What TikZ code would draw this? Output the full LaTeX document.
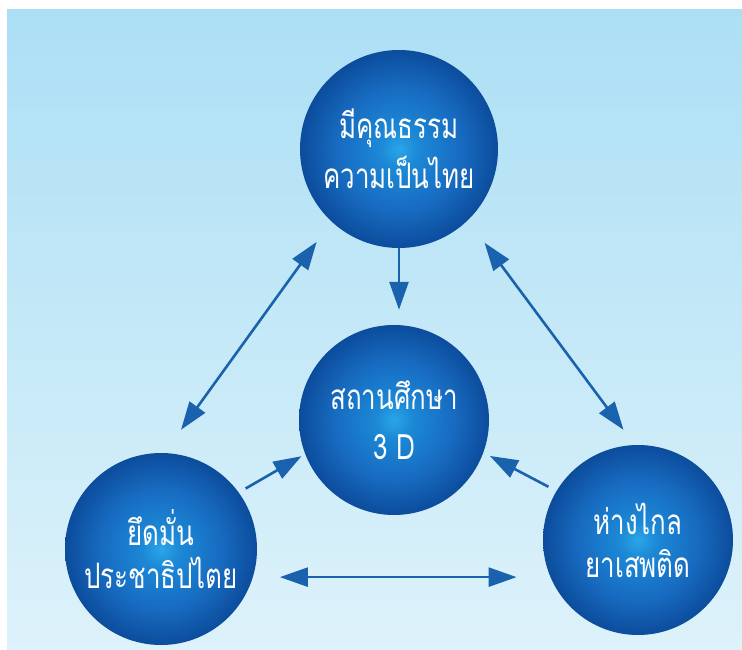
\documentclass[tikz,border=0pt]{standalone}
\usepackage{fontspec}
\newfontfamily\thaifont[Script=Thai,FakeStretch=0.74]{Loma}
\usetikzlibrary{arrows.meta}
\definecolor{bgtop}{HTML}{ACDFF5}
\definecolor{bgbot}{HTML}{DDF2FA}
\definecolor{ballA}{HTML}{2AA6E8}
\definecolor{ballB}{HTML}{1C88D6}
\definecolor{ballC}{HTML}{176ABF}
\definecolor{ballD}{HTML}{0C4C9C}
\definecolor{arrowblue}{HTML}{1A62AE}
\pgfdeclareradialshading{ballshade}{\pgfpoint{0bp}{0bp}}{color(0bp)=(ballA); color(5bp)=(ballB); color(16bp)=(ballC); color(25bp)=(ballD); color(50bp)=(ballD)}
\tikzset{
  ball/.style={circle, inner sep=0pt, shading=ballshade, text=white, align=center,
    font=\thaifont\fontsize{35}{50}\selectfont},
  tight/.style={font=\thaifont\fontsize{35}{43}\selectfont},
  conn/.style={draw=arrowblue, line width=2.6pt},
  tipend/.style={-{Triangle[length=28pt,width=19pt]}},
  tipboth/.style={{Triangle[length=28pt,width=19pt]}-{Triangle[length=28pt,width=19pt]}}
}
\begin{document}
\begin{tikzpicture}[x=1pt,y=-1pt]
\useasboundingbox (0,0) rectangle (742,650);
\fill[white] (0,0) rectangle (742,650);
\shade[top color=bgtop, bottom color=bgbot] (7,10) rectangle (742,650);

\node[ball, minimum size=198pt] (top) at (399,149) {มีคุณธรรม\\ความเป็นไทย};
\node[ball, minimum size=190pt] (mid) at (394,420) {สถานศึกษา\\3 D};
\node[ball, tight, minimum size=192pt] (left) at (161,549) {ยึดมั่น\\ประชาธิปไตย};
\node[ball, tight, minimum size=190pt] (right) at (638,540) {ห่างไกล\\ยาเสพติด};

\draw[conn, tipend, shorten >=15pt] (top.south) -- (top.south |- mid.north);
\draw[conn, tipboth, shorten <=25.1pt, shorten >=28.5pt] (top.227.3) -- (left.88.7);
\draw[conn, tipboth, shorten <=27.9pt, shorten >=18.7pt] (top.314.6) -- (right.92.4);
\draw[conn, tipend, shorten <=7.9pt, shorten >=4.2pt] (left.36.6) -- (mid.201.6);
\draw[conn, tipend, shorten <=9pt, shorten >=7.3pt] (right.149.9) -- (mid.340.7);
\draw[conn, tipboth, shorten <=26.9pt, shorten >=33.1pt] (left.343.7) -- (right.202.3 |- left.343.7);
\end{tikzpicture}
\end{document}
